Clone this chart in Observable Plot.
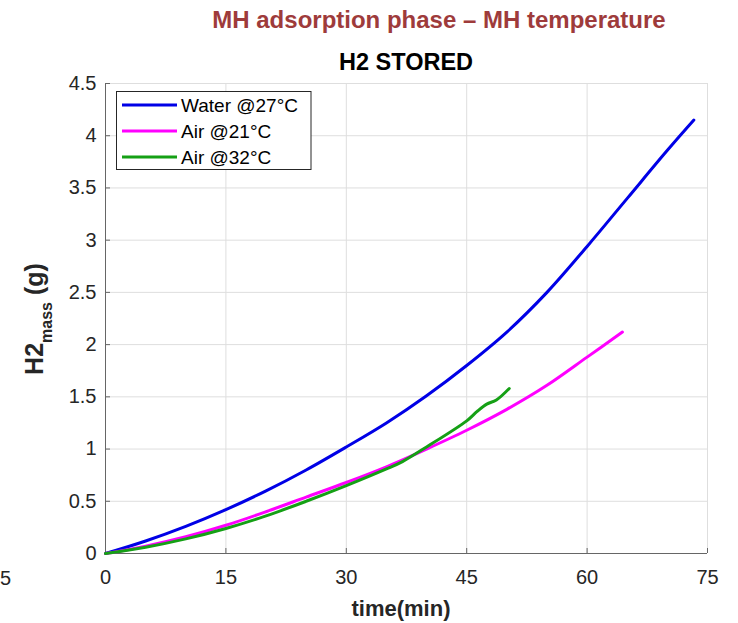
<!DOCTYPE html>
<html>
<head>
<meta charset="utf-8">
<script src="https://cdn.jsdelivr.net/npm/d3@7"></script>
<script src="https://cdn.jsdelivr.net/npm/@observablehq/plot@0.6"></script>
<style>
  body { margin: 0; background: #fff; }
  svg { display: block; }
</style>
</head>
<body>
<div id="chart"></div>
<script>
// ---- data ----
const waterTime = [0, 5, 10, 15, 20, 25, 30, 35, 40, 45, 50, 55, 60, 65, 70, 73.3];
const waterMass = [0, 0.12, 0.26, 0.42, 0.60, 0.80, 1.02, 1.25, 1.51, 1.80, 2.12, 2.50, 2.94, 3.40, 3.86, 4.15];

const air21Time = [0, 5, 10, 15, 20, 25, 30, 35, 40, 45, 50, 55, 60, 64.4];
const air21Mass = [0, 0.07, 0.16, 0.27, 0.40, 0.54, 0.68, 0.83, 1.0, 1.18, 1.38, 1.61, 1.88, 2.12];

const air32Time = [0, 5, 10, 15, 20, 25, 30, 35, 37, 40, 45, 46.3, 47.5, 48.7, 50.3];
const air32Mass = [0, 0.06, 0.14, 0.24, 0.36, 0.50, 0.65, 0.81, 0.88, 1.02, 1.27, 1.36, 1.43, 1.47, 1.58];

const seriesNames = ["Water @27°C", "Air @21°C", "Air @32°C"];
const seriesColors = ["#0000e6", "#ff00ff", "#15a015"];

const xTicks = [0, 15, 30, 45, 60, 75];
const yTicks = [0, 0.5, 1, 1.5, 2, 2.5, 3, 3.5, 4, 4.5];

const mainTitle = "MH adsorption phase – MH temperature";
const chartTitle = "H2 STORED";
const xLabel = "time(min)";

// ---- build table ----
const rows = [];
[[waterTime, waterMass], [air21Time, air21Mass], [air32Time, air32Mass]].forEach(([t, m], i) => {
  t.forEach((v, j) => rows.push({series: seriesNames[i], time: v, mass: m[j]}));
});

const W = 738, H = 623;
const mL = 105, mR = 31, mT = 83, mB = 70;
const fw = W - mL - mR, fh = H - mT - mB;

const plot = Plot.plot({
  width: W,
  height: H,
  marginLeft: mL,
  marginRight: mR,
  marginTop: mT,
  marginBottom: mB,
  style: {fontFamily: "'Liberation Sans', Arial, sans-serif", fontSize: "20px", color: "#262626", background: "#fff"},
  x: {domain: [0, 75], ticks: xTicks},
  y: {domain: [0, 4.5], ticks: yTicks},
  color: {domain: seriesNames, range: seriesColors},
  marks: [
    Plot.gridX(xTicks, {stroke: "#dedede", strokeOpacity: 1}),
    Plot.gridY(yTicks, {stroke: "#dedede", strokeOpacity: 1}),
    Plot.ruleY([0], {stroke: "#666", strokeWidth: 1}),
    Plot.ruleX([0], {stroke: "#666", strokeWidth: 1}),
    Plot.tickX(xTicks, {x: d => d, insetTop: fh - 5, stroke: "#666"}),
    Plot.tickY(yTicks, {y: d => d, insetRight: fw - 5, stroke: "#666"}),
    Plot.line(rows, {x: "time", y: "mass", z: "series", stroke: "series", strokeWidth: 3, curve: "catmull-rom"}),
    Plot.axisX(xTicks, {tickSize: 0, tickPadding: 16, label: null, fontSize: 20, fill: "#262626"}),
    Plot.axisY(yTicks, {tickSize: 0, tickPadding: 9, label: null, fontSize: 20, fill: "#262626", tickFormat: d => String(d)})
  ]
});

document.getElementById("chart").appendChild(plot);

const svg = d3.select(plot);
const font = "'Liberation Sans', Arial, sans-serif";
const cx = mL + fw / 2;

svg.append("text")
  .attr("x", 439).attr("y", 28)
  .attr("text-anchor", "middle")
  .attr("font-family", font).attr("font-weight", "bold").attr("font-size", 24)
  .attr("fill", "#9e3b3b")
  .text(mainTitle);

svg.append("text")
  .attr("x", cx).attr("y", 70)
  .attr("text-anchor", "middle")
  .attr("font-family", font).attr("font-weight", "bold").attr("font-size", 23.5)
  .attr("fill", "#000")
  .text(chartTitle);

svg.append("text")
  .attr("x", 401).attr("y", 616)
  .attr("text-anchor", "middle")
  .attr("font-family", font).attr("font-weight", "bold").attr("font-size", 22)
  .attr("fill", "#262626")
  .text(xLabel);

const yl = svg.append("text")
  .attr("transform", "translate(43,319) rotate(-90)")
  .attr("text-anchor", "middle")
  .attr("font-family", font).attr("font-weight", "bold").attr("font-size", 25)
  .attr("fill", "#262626");
yl.append("tspan").text("H2");
yl.append("tspan").attr("font-size", 16).attr("dy", 9).text("mass");
yl.append("tspan").attr("dy", -9).text(" (g)");

// clipped label from a neighbouring chart at the left edge
svg.append("text")
  .attr("x", 0).attr("y", 585)
  .attr("text-anchor", "start")
  .attr("font-family", font).attr("font-size", 20)
  .attr("fill", "#262626")
  .text("5");

// legend
const lg = svg.append("g");
lg.append("rect")
  .attr("x", 116.5).attr("y", 91.5).attr("width", 194.5).attr("height", 78)
  .attr("fill", "#fff").attr("stroke", "#262626").attr("stroke-width", 1);
seriesNames.forEach((name, i) => {
  const yy = 105 + i * 26;
  lg.append("line")
    .attr("x1", 122).attr("x2", 177).attr("y1", yy).attr("y2", yy)
    .attr("stroke", seriesColors[i]).attr("stroke-width", 3);
  lg.append("text")
    .attr("x", 181).attr("y", yy + 6.5)
    .attr("text-anchor", "start")
    .attr("font-family", font).attr("font-size", 19)
    .attr("fill", "#000")
    .text(name);
});
</script>
</body>
</html>
